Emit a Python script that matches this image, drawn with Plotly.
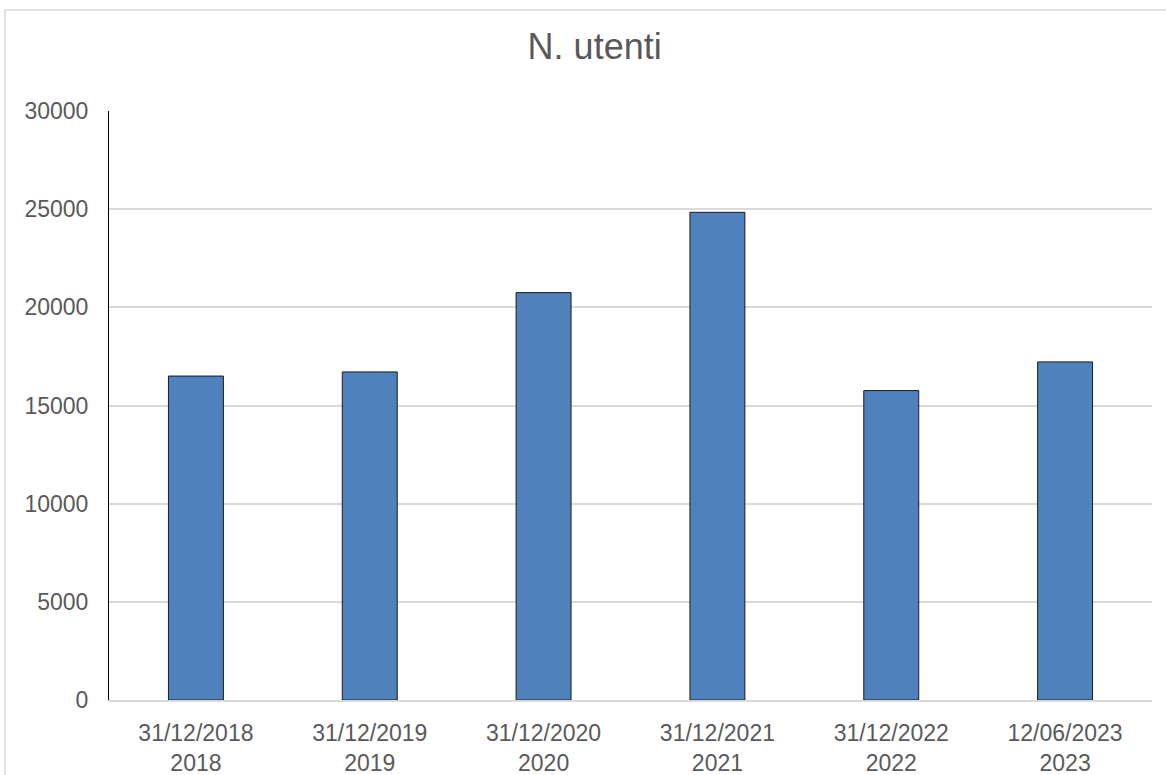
import plotly.graph_objects as go

categories = ["31/12/2018<br>2018", "31/12/2019<br>2019", "31/12/2020<br>2020",
              "31/12/2021<br>2021", "31/12/2022<br>2022", "12/06/2023<br>2023"]
values = [16500, 16710, 20750, 24840, 15760, 17220]
y_ticks = [0, 5000, 10000, 15000, 20000, 25000, 30000]

W, H = 1166, 775
L, R, T, B = 109, 14, 111, 75
pw, ph = W - L - R, H - T - B

fig = go.Figure()
fig.add_trace(go.Bar(
    x=categories, y=values,
    marker=dict(color="#4f81bd", line=dict(color="#1a1a1a", width=1)),
))

fig.update_layout(
    width=W, height=H,
    margin=dict(l=L, r=R, t=T, b=B, autoexpand=False),
    paper_bgcolor="white", plot_bgcolor="white",
    bargap=0.684,
    showlegend=False,
    font=dict(family="Liberation Sans, Arial, sans-serif", color="#595959", size=23),
    title=dict(text="N. utenti", x=0.51, xanchor="center", y=1 - 46 / H, yanchor="middle",
               font=dict(size=36, color="#595959")),
)
fig.update_yaxes(
    range=[0, 30000], tickvals=y_ticks, ticktext=[str(v) for v in y_ticks],
    showgrid=True, gridcolor="#d9d9d9", gridwidth=1.5,
    showline=True, linecolor="#000000", linewidth=1,
    zeroline=False, ticks="", ticklabelstandoff=15, automargin=False,
    tickfont=dict(size=23, color="#595959"),
)
fig.update_xaxes(
    showline=True, linecolor="#d9d9d9", linewidth=1.5,
    ticks="", ticklabelstandoff=12, automargin=False,
    tickfont=dict(size=23, color="#595959"),
)

# outer chart border (cropped on right/bottom)
x0 = (5 - L) / pw
y1 = 1 + (T - 10) / ph
fig.add_shape(type="rect", xref="paper", yref="paper",
              x0=x0, x1=1.2, y0=-0.3, y1=y1,
              line=dict(color="#d9d9d9", width=1.5), fillcolor="rgba(0,0,0,0)", layer="below")

fig.write_html("out.html", config={"displayModeBar": False},
               post_script="document.body.style.margin='0';")
